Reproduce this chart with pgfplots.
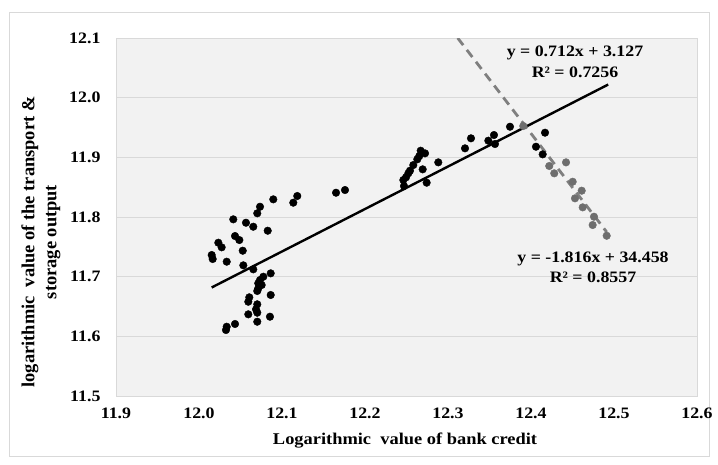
\documentclass[border=0pt]{standalone}
\usepackage{fontspec}
\setmainfont{Liberation Serif}
\newfontfamily\wfont{Liberation Serif}[FakeStretch=1.12]
\usepackage{pgfplots}
\pgfplotsset{compat=1.18}
\definecolor{plotbg}{HTML}{F2F2F2}
\definecolor{gridc}{HTML}{D9D9D9}
\definecolor{greypt}{HTML}{6E6E6E}
\definecolor{dashc}{HTML}{7F7F7F}
\pgfplotstableread{
x y
12.0153 11.7363
12.0165 11.7296
12.0233 11.7569
12.0273 11.7492
12.0334 11.7251
12.0413 11.7961
12.0434 11.7681
12.0486 11.7614
12.0527 11.7435
12.0534 11.7190
12.0566 11.7904
12.0654 11.7837
12.0702 11.8062
12.0735 11.8172
12.0654 11.7123
12.0828 11.7770
12.0895 11.8296
12.1136 11.8240
12.1184 11.8352
12.1651 11.8407
12.1759 11.8452
12.0864 11.7056
12.0775 11.6999
12.0735 11.6944
12.0714 11.6889
12.0755 11.6860
12.0714 11.6805
12.0702 11.6760
12.0864 11.6693
12.0606 11.6654
12.0594 11.6580
12.0702 11.6537
12.0687 11.6453
12.0702 11.6396
12.0594 11.6369
12.0855 11.6329
12.0702 11.6245
12.0434 11.6207
12.0334 11.6161
12.0325 11.6106
12.2470 11.8519
12.2462 11.8620
12.2494 11.8665
12.2522 11.8732
12.2542 11.8776
12.2582 11.8871
12.2630 11.8967
12.2654 11.9022
12.2671 11.9111
12.2723 11.9067
12.2695 11.8799
12.2743 11.8575
12.2883 11.8916
12.3205 11.9151
12.3277 11.9319
12.3486 11.9279
12.3554 11.9374
12.3566 11.9223
12.3747 11.9513
12.4169 11.9413
12.4060 11.9178
12.4141 11.9050
}\blackdata
\pgfplotstableread{
x y
12.3907 11.9525
12.4220 11.8855
12.4280 11.8732
12.4422 11.8916
12.4502 11.8591
12.4611 11.8441
12.4530 11.8313
12.4623 11.8162
12.4759 11.8005
12.4743 11.7866
12.4912 11.7686
}\greydata
\begin{document}
\begin{tikzpicture}
\useasboundingbox (0,0) rectangle (718bp,-465bp);
\fill[white] (0,0) rectangle (718bp,-465bp);
\draw[gridc, line width=0.8bp] (9bp,-12bp) rectangle (709bp,-456bp);
\begin{axis}[
  at={(116bp,-396bp)}, anchor=south west,
  scale only axis, width=581bp, height=358bp,
  xmin=11.9, xmax=12.6, ymin=11.5, ymax=12.1,
  xtick={11.9,12.0,12.1,12.2,12.3,12.4,12.5,12.6},
  xticklabels={11.9,12.0,12.1,12.2,12.3,12.4,12.5,12.6},
  ytick={11.5,11.6,11.7,11.8,11.9,12.0,12.1},
  yticklabels={11.5,11.6,11.7,11.8,11.9,12.0,12.1},
  major tick length=0pt,
  ymajorgrids, grid style={gridc, line width=0.8bp},
  axis line style={gridc, line width=0.8bp},
  axis background/.style={fill=plotbg},
  ticklabel style={font=\wfont\bfseries\fontsize{16}{18}\selectfont, text=black},
  xticklabel style={yshift=-8bp},
  yticklabel style={xshift=-12bp},
  clip=true,
]
\addplot[only marks, mark=*, mark size=3.8bp, mark options={fill=black, draw=black}] table {\blackdata};
\addplot[only marks, mark=*, mark size=3.8bp, mark options={fill=greypt, draw=greypt}] table {\greydata};
\addplot[black, line width=2.4bp] coordinates {(12.0153,11.6819) (12.4930,12.0220)};
\addplot[dashc, line width=2.8bp, dash pattern=on 9bp off 6bp] coordinates {(12.3117,12.1) (12.4912,11.7748)};
\node[font=\wfont\bfseries\fontsize{16}{18}\selectfont] at (axis cs:12.453,12.0748) {y = 0.712x + 3.127};
\node[font=\wfont\bfseries\fontsize{16}{18}\selectfont] at (axis cs:12.453,12.043) {R² = 0.7256};
\node[font=\wfont\bfseries\fontsize{16}{18}\selectfont] at (axis cs:12.4747,11.7296) {y = -1.816x + 34.458};
\node[font=\wfont\bfseries\fontsize{16}{18}\selectfont] at (axis cs:12.4747,11.6994) {R² = 0.8557};
\end{axis}
\node[font=\wfont\bfseries\fontsize{16.5}{19}\selectfont] at (405bp,-441bp) {Logarithmic\ \ value of bank credit};
\node[font=\bfseries\fontsize{18.5}{22}\selectfont, rotate=90, align=center] at (41bp,-242bp) {logarithmic\ \ value of the transport \&\\storage output};
\end{tikzpicture}
\end{document}
